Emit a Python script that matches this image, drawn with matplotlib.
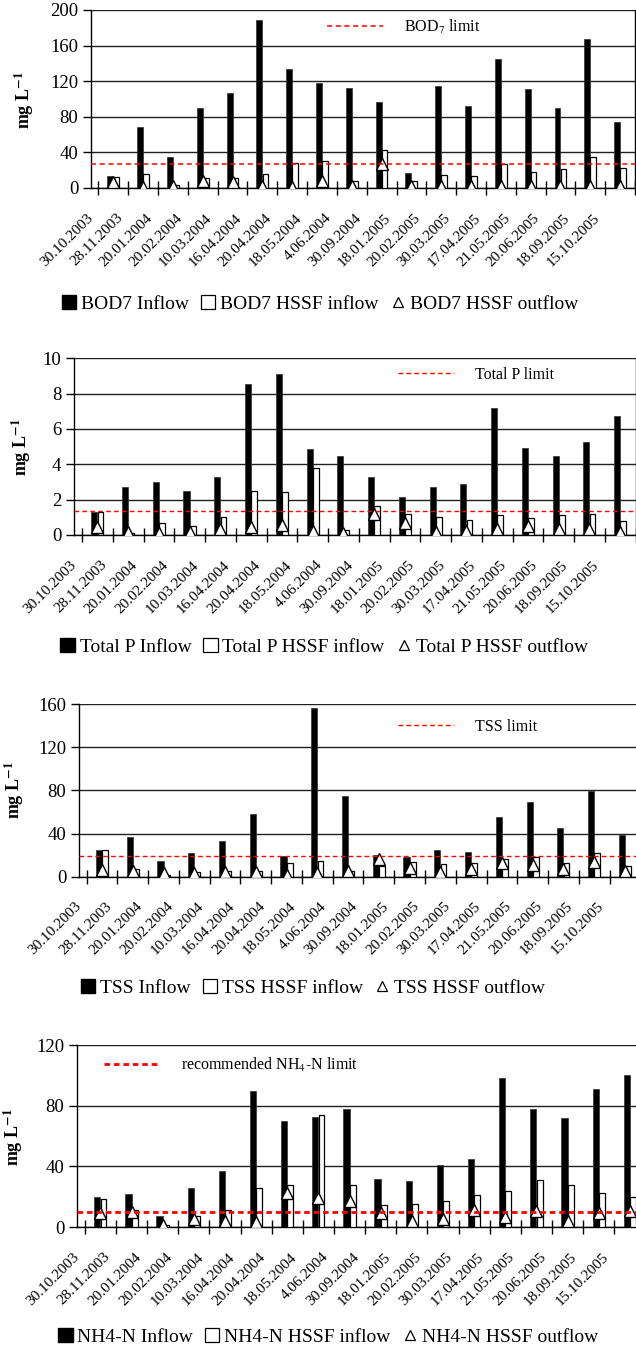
import numpy as np
import matplotlib
matplotlib.use("Agg")
import matplotlib.pyplot as plt
from matplotlib.patches import Patch
from matplotlib.lines import Line2D

plt.rcParams["font.family"] = ["Liberation Serif", "DejaVu Serif"]
plt.rcParams["mathtext.fontset"] = "stix"

dates = ["30.10.2003", "28.11.2003", "20.01.2004", "20.02.2004", "10.03.2004",
         "16.04.2004", "20.04.2004", "18.05.2004", "4.06.2004", "30.09.2004",
         "18.01.2005", "20.02.2005", "30.03.2005", "17.04.2005", "21.05.2005",
         "20.06.2005", "18.09.2005", "15.10.2005"]

# BOD7, mg/L
bod_inflow = [13, 68, 35, 90, 107, 189, 134, 118, 112, 97, 17, 115, 92, 145, 111, 90, 167, 74]
bod_hssf_in = [12, 16, 3, 11, 11, 16, 28, 30, 8, 43, 7.5, 15, 14, 27, 18, 21, 35, 22]
bod_hssf_out = [6.5, 1, 2, 7.5, 6.5, 2, 1, 8, 2.5, 27, 2.5, 2.5, 2.5, 2, 2, 2, 2, 2]
bod_limit = 27

# Total P, mg/L
tp_inflow = [1.32, 2.72, 3.0, 2.49, 3.3, 8.55, 9.1, 4.85, 4.49, 3.3, 2.15, 2.72, 2.89, 7.2, 4.9, 4.49, 5.25, 6.75]
tp_hssf_in = [1.3, 0.13, 0.7, 0.53, 1.04, 2.49, 2.42, 3.8, 0.3, 1.62, 1.17, 1.0, 0.87, 1.11, 0.98, 1.11, 1.17, 0.81]
tp_hssf_out = [0.47, 0.19, 0.1, 0.19, 0.32, 0.47, 0.57, 0.25, 0.1, 1.19, 0.7, 0.19, 0.23, 0.34, 0.51, 0.36, 0.36, 0.19]
tp_limit = 1.34

# TSS, mg/L
tss_inflow = [25, 37, 14.5, 21.5, 33, 58, 19.5, 156, 75, 20, 18.5, 24.5, 22.5, 55, 69.5, 45, 79, 38.5]
tss_hssf_in = [25, 7.5, 2, 4.5, 5.5, 5.5, 12.5, 15, 5.5, 10, 14, 11.5, 12.5, 16.5, 18.5, 12.5, 22, 10]
tss_hssf_out = [6, 5.5, 3.5, 3.5, 4.5, 4, 2, 3.5, 5.5, 16, 8.5, 4.5, 7, 12.5, 11, 7, 14, 5.5]
tss_limit = 19

# NH4-N, mg/L
nh4_inflow = [20, 22, 7, 26, 37, 90, 70, 72.5, 77.5, 31.5, 30.5, 41, 45, 98, 77.5, 72, 91, 100]
nh4_hssf_in = [18.5, 11.5, 1, 7.5, 11, 26, 27.5, 74, 27.5, 14.5, 15, 17, 21, 24, 31, 28, 22.5, 20]
nh4_hssf_out = [9, 10, 1.5, 5, 4, 3.3, 22.5, 19, 17, 9.5, 4, 5, 11.5, 6.5, 10.5, 3.7, 9.5, 10.5]
nh4_limit = 9.6

W, H = 636, 1359
fig = plt.figure(figsize=(W / 100, H / 100), dpi=100)


def px_rect(left, top, right, bottom):
    return [left / W, 1 - bottom / H, (right - left) / W, (bottom - top) / H]


def draw_panel(rect, inflow, hssf_in, hssf_out, limit, ymax, ystep,
               limit_label, limit_lw, limit_dash, limit_pos, ylab_pos,
               names, legend_pos):
    ax = fig.add_axes(rect)
    x = np.arange(len(dates))
    ax.bar(x - 0.1, inflow, width=0.2, color="black", edgecolor="#303030",
           linewidth=0.5, zorder=3)
    ax.bar(x + 0.1, hssf_in, width=0.19, color="white", edgecolor="black",
           linewidth=0.9, zorder=3)
    ax.plot(x, hssf_out, ls="none", marker="^", ms=8.5, mfc="white", mec="black",
            mew=1.0, zorder=4)
    lim = ax.axhline(limit, color="red", lw=limit_lw, ls=(0, limit_dash), zorder=5)

    ax.set_xlim(-0.5, len(dates) - 0.5)
    ax.set_ylim(0, ymax)
    ax.set_yticks(np.arange(0, ymax + ystep / 2, ystep))
    ax.yaxis.grid(True, color="#202020", lw=1.0)
    ax.set_axisbelow(True)
    ax.spines["top"].set_visible(False)
    for s in ("left", "bottom", "right"):
        ax.spines[s].set_linewidth(1.0)
        ax.spines[s].set_color("black")
    ax.tick_params(axis="y", direction="out", length=6, width=1, labelsize=13.5, pad=3)

    # tick marks sit between the sampling dates, labels hang below them
    ax.set_xticks(np.arange(-0.5, len(dates), 1.0))
    ax.tick_params(axis="x", which="major", direction="inout", length=10,
                   width=1, labelbottom=False)
    ax.set_xticks(x - 0.76, minor=True)
    ax.set_xticklabels(dates, minor=True, rotation=45, ha="right",
                       va="center", rotation_mode="anchor", fontsize=11)
    ax.tick_params(axis="x", which="minor", length=0, pad=20)

    ax.set_ylabel(r"mg L$^{\mathbf{-1}}$", fontsize=13, fontweight="bold",
                  va="center")
    ax.yaxis.set_label_coords(ylab_pos[0] / W, 1 - ylab_pos[1] / H,
                              transform=fig.transFigure)

    ax.legend([lim], [limit_label], loc="center left",
              bbox_to_anchor=(limit_pos[0] / W, 1 - limit_pos[1] / H),
              bbox_transform=fig.transFigure, frameon=False, fontsize=11.5,
              handlelength=3.5, handletextpad=1.3, borderpad=0, borderaxespad=0)

    handles = [Patch(facecolor="black", edgecolor="black"),
               Patch(facecolor="white", edgecolor="black", linewidth=0.9),
               Line2D([], [], ls="none", marker="^", ms=7, mfc="white",
                      mec="black", mew=0.9)]
    fig.legend(handles, names, loc="center", ncol=3,
               bbox_to_anchor=(legend_pos[0] / W, 1 - legend_pos[1] / H),
               frameon=False, fontsize=14, handlelength=0.75, handleheight=0.75,
               handletextpad=0.25, columnspacing=0.6, borderpad=0)
    return ax


draw_panel(px_rect(90.7, 10, 635, 188), bod_inflow, bod_hssf_in, bod_hssf_out,
           bod_limit, 200, 40, r"BOD$_7$ limit", 1.1, (3.3, 2.4),
           (327, 27), (24, 100),
           ["BOD7 Inflow", "BOD7 HSSF inflow", "BOD7 HSSF outflow"], (320, 304))

draw_panel(px_rect(74, 358.3, 74 + 18 * 31.2, 535), tp_inflow, tp_hssf_in, tp_hssf_out,
           tp_limit, 10, 2, "Total P limit", 1.0, (3.3, 2.4),
           (398, 375), (21, 447),
           ["Total P Inflow", "Total P HSSF inflow", "Total P HSSF outflow"], (324, 647))

draw_panel(px_rect(78.7, 704, 78.7 + 18 * 31.2, 876.7), tss_inflow, tss_hssf_in, tss_hssf_out,
           tss_limit, 160, 40, "TSS limit", 1.0, (3.3, 2.4),
           (398, 727), (14, 790),
           ["TSS Inflow", "TSS HSSF inflow", "TSS HSSF outflow"], (313, 988))

draw_panel(px_rect(76.7, 1045, 76.7 + 18 * 31.6, 1227), nh4_inflow, nh4_hssf_in, nh4_hssf_out,
           nh4_limit, 120, 40, r"recommended NH$_4$-N limit", 2.0, (2.0, 1.4),
           (104, 1065), (13, 1137),
           ["NH4-N Inflow", "NH4-N HSSF inflow", "NH4-N HSSF outflow"], (328, 1337))

fig.savefig("out.png", dpi=100)
